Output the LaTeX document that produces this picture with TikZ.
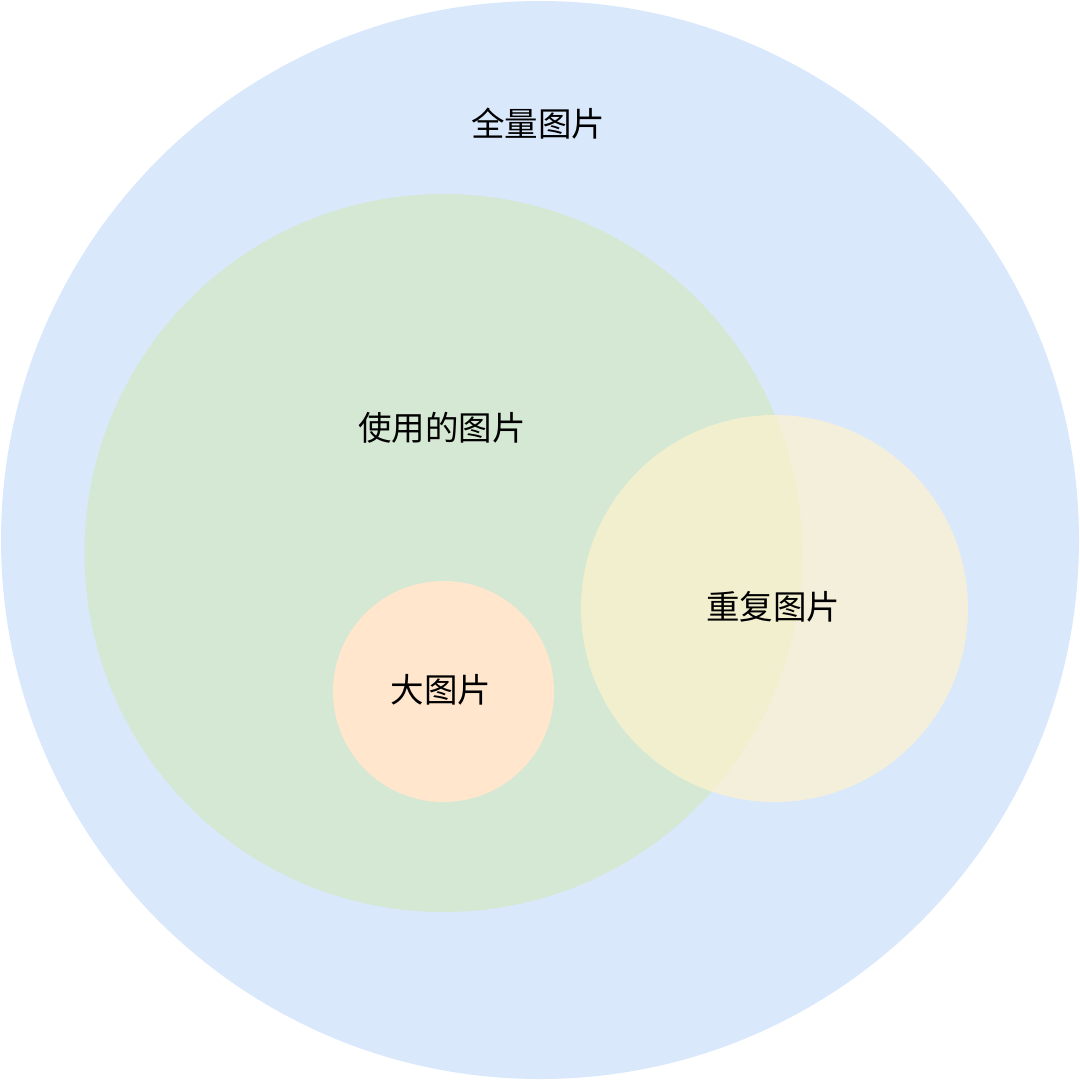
\documentclass[tikz,border=0pt]{standalone}
\usepackage{fontspec}
\newfontfamily\cjk{Noto Sans CJK SC}
\definecolor{cblue}{HTML}{DAE8FC}
\definecolor{cgreen}{HTML}{D5E8D4}
\definecolor{cyellow}{HTML}{FFF2CC}
\definecolor{corange}{HTML}{FFE6CC}
\tikzset{
  setc/.style={circle, draw=none, inner sep=0pt},
  lbl/.style={font=\cjk\fontsize{33.5}{36}\selectfont, text=black, inner sep=0pt}
}
\begin{document}
\begin{tikzpicture}[x=1pt,y=-1pt]
\useasboundingbox (0,0) rectangle (1080,1080);
\node[setc, fill=cblue, minimum size=1078pt] (all) at (540,540) {};
\node[setc, fill=cgreen, minimum size=718pt] (used) at (443.5,553) {};
\node[setc, fill=corange, minimum size=221pt] (big) at (443.5,691.5) {};
\node[setc, fill=cyellow, fill opacity=0.7, minimum size=387pt] (dup) at (774.5,608.5) {};
\node[lbl] (tall) at (538,124) {全量图片};
\node[lbl] (tused) at (442,428) {使用的图片};
\node[lbl] (tdup) at (773,607) {重复图片};
\node[lbl] (tbig) at (441,690) {大图片};
\end{tikzpicture}
\end{document}
